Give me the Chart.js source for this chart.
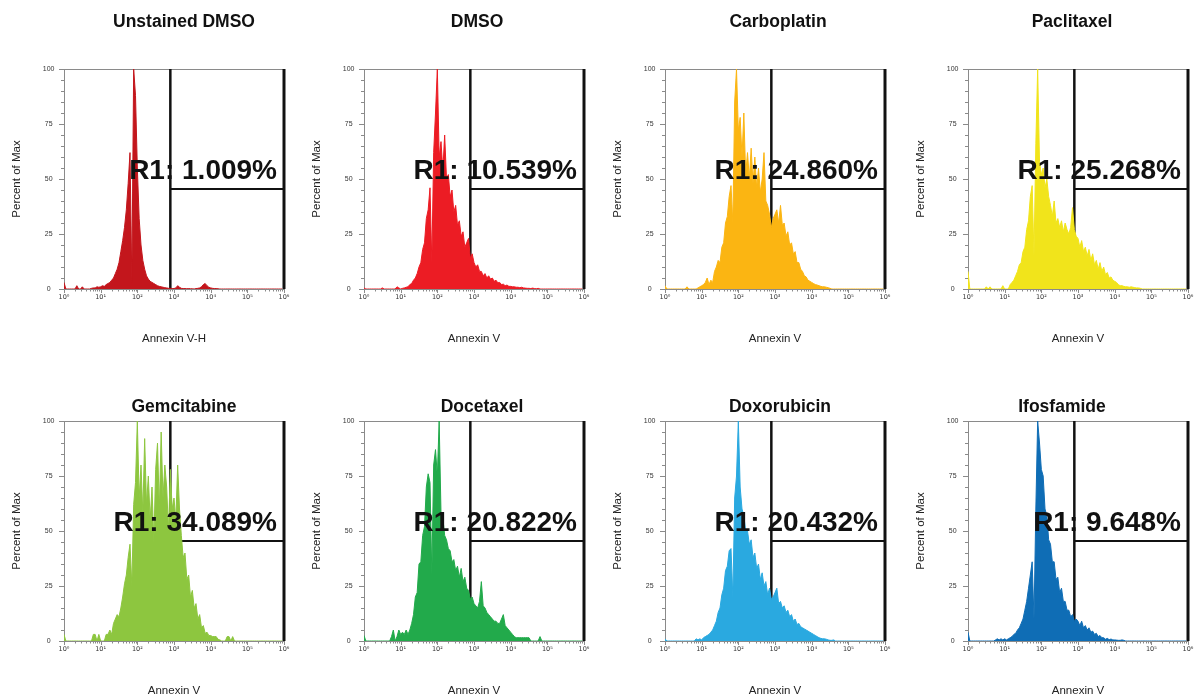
<!DOCTYPE html>
<html>
<head>
<meta charset="utf-8">
<title>Annexin V histograms</title>
<script src="https://cdn.jsdelivr.net/npm/chart.js@4.4.1/dist/chart.umd.min.js"></script>
<style>
  body { margin: 0; background: #fff; width: 1197px; height: 700px; overflow: hidden; position: relative; }
  canvas { position: absolute; }
</style>
</head>
<body>
<script>
// histogram bins: 0.05 decade wide, from 10^0 to 10^6 (log10 of the bin)
const binLog = Array.from({ length: 120 }, (_, i) => Math.round(i * 5) / 100)

// percent of max, one row per decade (20 bins each)
const unstainedDmso = [
  3, 0, 0, 0, 0, 0, 0, 1.5, 0, 0, 1, 0, 0, 0, 0, 0.3, 0.5, 0.5, 1, 0.8,
  1, 1.5, 1.2, 2, 2.5, 3, 4, 5, 7, 9, 12, 17, 22, 28, 36, 48, 62, 3, 100, 88,
  55, 32, 20, 13, 9, 6, 4.5, 3.5, 3, 2.5, 2, 1.5, 1.2, 1, 0.8, 0.6, 0.5, 0.3, 0.3, 0.2,
  0.2, 0.5, 1.5, 0.8, 0.3, 0.2, 0.2, 0.1, 0.2, 0.1, 0.1, 0, 0.2, 0.3, 0.5, 1, 2, 2.5, 1.5, 0.8,
  0.5, 0.3, 0.2, 0.2, 0.1, 0, 0, 0, 0, 0, 0, 0, 0, 0, 0, 0, 0, 0, 0, 0,
  0, 0, 0, 0, 0, 0, 0, 0, 0, 0, 0, 0, 0, 0, 0, 0, 0, 0, 0, 0
]
const dmso = [
  0.5, 0, 0, 0, 0, 0, 0, 0, 0, 0, 0.5, 0, 0, 0, 0, 0, 0, 0, 1, 0.5,
  0, 0.3, 0.5, 0.8, 1, 2, 2.5, 4, 5, 7, 10, 12, 18, 21, 32, 36, 46, 12, 62, 80,
  100, 60, 67, 54, 70, 50, 52, 42, 45, 35, 38, 29, 31, 24, 26, 19, 21, 23, 14, 16,
  12, 10, 11, 8, 8, 6, 7, 5, 6, 4.5, 5, 3.5, 4, 2.8, 3, 2, 2.2, 1.5, 1.8, 1.2,
  1.2, 1, 1, 0.8, 0.8, 0.6, 0.8, 0.5, 0.4, 0.3, 0.3, 0.2, 0.4, 0.2, 0.1, 0.3, 0, 0, 0, 0,
  0, 0, 0, 0, 0, 0, 0, 0, 0, 0, 0, 0, 0, 0, 0, 0, 0, 0, 0, 0
]
const carboplatin = [
  1.5, 0, 0, 0, 0, 0, 0, 0, 0, 0, 0, 0, 1, 0, 0, 0, 0, 0, 0.5, 1,
  1.5, 2, 3, 5, 2, 4, 3, 8, 10, 13, 12, 19, 21, 30, 33, 42, 47, 30, 85, 100,
  72, 78, 60, 80, 52, 62, 50, 64, 48, 60, 46, 55, 44, 50, 62, 40, 38, 34, 28, 32,
  34, 36, 30, 38, 29, 30, 24, 26, 20, 21, 16, 17, 12, 12, 9, 8, 6, 5.5, 4, 3.5,
  3, 2.5, 2, 1.8, 1.5, 1.2, 1, 1, 0.8, 0.6, 0.3, 0, 0, 0, 0, 0, 0, 0, 0, 0,
  0, 0, 0, 0, 0, 0, 0, 0, 0, 0, 0, 0, 0, 0, 0, 0, 0, 0, 0, 0
]
const paclitaxel = [
  8, 0, 0, 0, 0, 0, 0, 0, 0, 0, 1, 0, 1, 0, 0, 0, 0, 0, 0, 1.5,
  0, 0, 0, 2, 3, 4, 6, 8, 11, 12, 17, 19, 27, 31, 42, 47, 15, 66, 100, 58,
  52, 55, 46, 50, 42, 38, 33, 40, 30, 32, 28, 31, 26, 30, 27, 25, 28, 37, 27, 24,
  23, 19, 22, 17, 19, 15, 18, 13, 16, 11, 13, 9, 12, 8, 10, 6.5, 7.5, 5, 5.5, 4,
  3.5, 3, 2, 1.5, 1.5, 1.2, 1, 1, 0.8, 1, 0.8, 0.6, 0.5, 0.5, 0.3, 0, 0, 0, 0, 0,
  0, 0, 0, 0, 0, 0, 0, 0, 0, 0, 0, 0, 0, 0, 0, 0, 0, 0, 0, 0
]
const gemcitabine = [
  3, 0, 0, 0, 0, 0, 0, 0, 0, 0, 0, 0, 0, 0, 0, 0, 3, 3, 0, 3,
  0, 0, 0, 3, 3, 5, 3, 8, 10, 12, 11, 15, 20, 26, 30, 38, 44, 25, 62, 72,
  100, 65, 80, 58, 92, 62, 75, 55, 70, 45, 78, 90, 60, 95, 65, 80, 70, 50, 78, 60,
  65, 55, 80, 60, 48, 38, 40, 28, 30, 20, 23, 15, 17, 10, 12, 6, 7, 3.5, 4, 2.5,
  2.5, 2, 2, 2, 0.8, 0.5, 0, 0, 0, 2, 2, 0, 2, 0, 0, 0, 0, 0, 0, 0,
  0, 0, 0, 0, 0, 0, 0, 0, 0, 0, 0, 0, 0, 0, 0, 0, 0, 0, 0, 0
]
const docetaxel = [
  2.5, 0, 0, 0, 0, 0, 0, 0, 0, 0, 0, 0, 0, 0, 0, 2, 5, 0, 2, 5,
  3, 4, 3, 5, 3, 5, 8, 12, 20, 22, 35, 36, 48, 52, 70, 76, 72, 30, 80, 87,
  75, 100, 58, 56, 48, 46, 42, 41, 36, 37, 32, 34, 29, 33, 27, 29, 24, 23, 19, 20,
  17, 16, 15, 18, 27, 16, 15, 13, 12, 11, 10, 9, 9, 8, 8, 10, 12, 7, 6, 5,
  4, 3, 2, 1.5, 1.5, 1.5, 1.5, 1.5, 1.5, 1.5, 1.5, 0, 0, 0, 0, 0, 2, 0, 0, 0,
  0, 0, 0, 0, 0, 0, 0, 0, 0, 0, 0, 0, 0, 0, 0, 0, 0, 0, 0, 0
]
const doxorubicin = [
  1, 0, 0, 0, 0, 0, 0, 0, 0, 0, 0, 0, 0, 0, 0, 0, 0, 1, 0.5, 1,
  0.5, 1.5, 2, 2.5, 3, 4, 5, 7, 9, 13, 15, 21, 24, 32, 34, 41, 42, 20, 65, 75,
  100, 70, 60, 57, 50, 50, 44, 46, 38, 40, 33, 35, 28, 31, 25, 27, 21, 24, 19, 20,
  22, 24, 17, 18, 15, 16, 13, 14, 11, 12, 9, 10, 7.5, 8, 6.5, 6, 5.5, 5, 4.5, 4,
  3.5, 3, 2.5, 2, 1.5, 1.2, 1, 1, 0.8, 0.5, 0.3, 0.3, 0.5, 0, 0, 0, 0, 0, 0, 0,
  0, 0, 0, 0, 0, 0, 0, 0, 0, 0, 0, 0, 0, 0, 0, 0, 0, 0, 0, 0
]
const ifosfamide = [
  4, 0, 0, 0, 0, 0, 0, 0, 0, 0, 0, 0, 0, 0, 0, 0.5, 1, 0.5, 1, 0.5,
  1, 0.5, 1, 1.5, 2, 3, 3.5, 5, 6, 8, 10, 14, 18, 24, 30, 36, 10, 60, 100, 90,
  78, 75, 60, 57, 46, 44, 36, 36, 28, 29, 22, 24, 18, 18, 14, 14, 11, 12, 9, 10,
  9, 7, 9, 6, 7, 5, 6, 4, 4.5, 3, 3.5, 2, 2.5, 1.5, 1.5, 0.8, 1.2, 0.6, 0.9, 0.5,
  0.5, 0.4, 0.3, 0.3, 0.5, 0.3, 0, 0, 0, 0, 0, 0, 0, 0, 0, 0, 0, 0, 0, 0,
  0, 0, 0, 0, 0, 0, 0, 0, 0, 0, 0, 0, 0, 0, 0, 0, 0, 0, 0, 0
]

const panelTitles = ['Unstained DMSO', 'DMSO', 'Carboplatin', 'Paclitaxel',
                     'Gemcitabine', 'Docetaxel', 'Doxorubicin', 'Ifosfamide']
const r1Labels = ['R1: 1.009%', 'R1: 10.539%', 'R1: 24.860%', 'R1: 25.268%',
                  'R1: 34.089%', 'R1: 20.822%', 'R1: 20.432%', 'R1: 9.648%']
const xTitles = ['Annexin V-H', 'Annexin V', 'Annexin V', 'Annexin V',
                 'Annexin V', 'Annexin V', 'Annexin V', 'Annexin V']
const decadeLabels = ['10\u2070', '10\u00b9', '10\u00b2', '10\u00b3', '10\u2074', '10\u2075', '10\u2076']
const histograms = [unstainedDmso, dmso, carboplatin, paclitaxel, gemcitabine, docetaxel, doxorubicin, ifosfamide]

// R1 gate: from the marker to the top of the scale, bar drawn at 45.5 % of max
const gateStart = 2.9
const gateEnd = 6
const gateLevel = 45.5
const labelLevel = 50

// look
const colors = ['#c3161c', '#ec1c24', '#fbb512', '#f1e41b', '#8dc63f', '#22aa4b', '#2aa9e0', '#0f6db5']
const font = "'Liberation Sans', Arial, sans-serif"
const colLeft = [0, 300, 601, 904]
const rowTop = [0, 352]
const titleX = [184, 177, 177, 168, 184, 182, 179, 158]
const titleY = [27, 59.5]

const decor = {
    id: 'decor',
    beforeDatasetsDraw(chart) {
        const { ctx, chartArea: a, scales: { x, y } } = chart
        ctx.save()
        ctx.strokeStyle = '#8a8a8a'
        ctx.lineWidth = 1
        ctx.beginPath()
        ctx.moveTo(a.left, a.top + 0.5)
        ctx.lineTo(a.right, a.top + 0.5)
        for (let v = 0; v <= 100; v += 5) {
            const py = Math.round(y.getPixelForValue(v)) + 0.5
            const len = v % 25 == 0 ? 5 : 3
            ctx.moveTo(a.left - len, py)
            ctx.lineTo(a.left, py)
        }
        for (let d = 0; d <= 6; d++) {
            let px = Math.round(x.getPixelForValue(d)) + 0.5
            ctx.moveTo(px, a.bottom)
            ctx.lineTo(px, a.bottom + 4)
            if (d == 6) break
            for (let k = 2; k <= 9; k++) {
                px = Math.round(x.getPixelForValue(d + Math.log10(k))) + 0.5
                ctx.moveTo(px, a.bottom)
                ctx.lineTo(px, a.bottom + 2.5)
            }
        }
        ctx.stroke()
        ctx.restore()
    },
    afterDatasetsDraw(chart, args, opts) {
        const { ctx, chartArea: a, scales: { y } } = chart
        ctx.save()
        ctx.fillStyle = '#111'
        ctx.font = 'bold 28px ' + font
        ctx.textAlign = 'right'
        ctx.textBaseline = 'alphabetic'
        ctx.fillText(opts.r1, a.right - 7, y.getPixelForValue(labelLevel))
        ctx.font = 'bold 17.5px ' + font
        ctx.textAlign = 'center'
        ctx.fillText(opts.title, opts.titleX, opts.titleY)
        ctx.restore()
    }
}

function gateLine(points, width) {
    return {
        type: 'line',
        data: points,
        borderColor: '#111',
        borderWidth: width,
        pointRadius: 0,
        fill: false,
        clip: false
    }
}

function createPanel(i) {
    const canvas = document.createElement('canvas')
    canvas.width = 300
    canvas.height = 348
    canvas.style.left = colLeft[i % 4] + 'px'
    canvas.style.top = rowTop[Math.floor(i / 4)] + 'px'
    document.body.appendChild(canvas)

    const points = binLog.map((x, j) => ({ x: x, y: histograms[i][j] }))

    return new Chart(canvas, {
        type: 'line',
        data: {
            datasets: [{
                data: points,
                borderColor: colors[i],
                backgroundColor: colors[i],
                borderWidth: 1,
                pointRadius: 0,
                tension: 0,
                fill: 'origin'
            },
            gateLine([{ x: gateStart, y: 0 }, { x: gateStart, y: 100 }], 2.5),
            gateLine([{ x: gateEnd, y: 0 }, { x: gateEnd, y: 100 }], 3),
            gateLine([{ x: gateStart, y: gateLevel }, { x: gateEnd, y: gateLevel }], 2)]
        },
        options: {
            responsive: false,
            animation: false,
            devicePixelRatio: 1,
            layout: { padding: { left: 10, right: 16, top: 69, bottom: 2 } },
            plugins: {
                legend: { display: false },
                tooltip: { enabled: false },
                decor: {
                    r1: r1Labels[i],
                    title: panelTitles[i],
                    titleX: titleX[i],
                    titleY: titleY[Math.floor(i / 4)]
                }
            },
            scales: {
                x: {
                    type: 'linear',
                    min: 0,
                    max: 6,
                    grid: { display: false, drawTicks: false },
                    border: { display: true, color: '#8a8a8a', width: 1 },
                    ticks: {
                        stepSize: 1,
                        autoSkip: false,
                        maxRotation: 0,
                        padding: 4,
                        color: '#333',
                        font: { family: "'DejaVu Sans', sans-serif", size: 6.5 },
                        callback: v => decadeLabels[Math.round(v)]
                    },
                    title: {
                        display: true,
                        text: xTitles[i],
                        color: '#222',
                        padding: 0,
                        font: { family: font, size: 11.5 }
                    },
                    afterFit: s => { s.height = 57 }
                },
                y: {
                    min: 0,
                    max: 100,
                    grid: { display: false, drawTicks: false },
                    border: { display: true, color: '#8a8a8a', width: 1 },
                    ticks: {
                        stepSize: 25,
                        padding: 9.5,
                        crossAlign: 'center',
                        color: '#333',
                        font: { family: font, size: 7 }
                    },
                    title: {
                        display: true,
                        text: 'Percent of Max',
                        color: '#222',
                        padding: 0,
                        font: { family: font, size: 11.5 }
                    },
                    afterFit: s => { s.width = 54 }
                }
            }
        },
        plugins: [decor]
    })
}

for (let i = 0; i < 8; i++) {
    createPanel(i)
}
</script>
</body>
</html>
